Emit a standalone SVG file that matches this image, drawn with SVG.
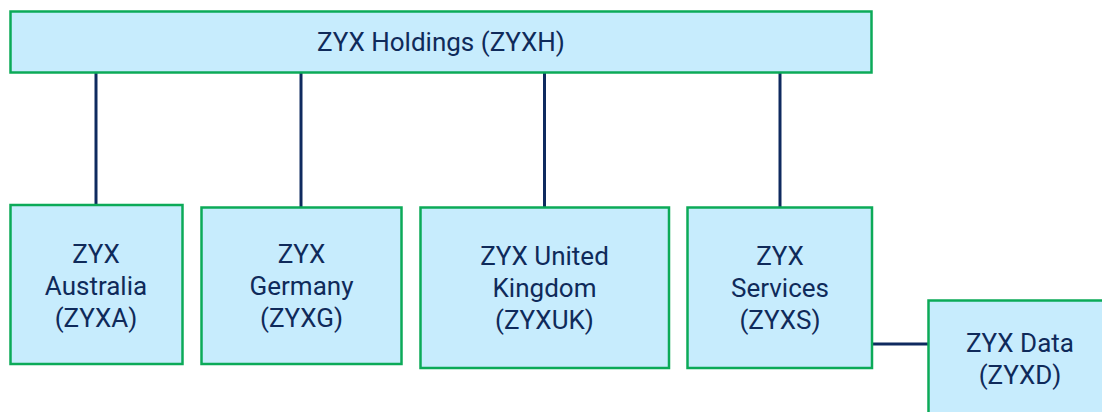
<svg xmlns="http://www.w3.org/2000/svg" width="1102" height="412" viewBox="0 0 1102 412">
<style>
.box{fill:#c7ecfd;stroke:#0caa58;stroke-width:2.5}
.t{font-family:Roboto,"Liberation Sans",sans-serif;font-size:26px;fill:#0f2a5a;text-anchor:middle}
.c{stroke:#0f2a5f;stroke-width:3;fill:none}
</style>
<rect width="1102" height="412" fill="#ffffff"/>
<g id="connectors">
<line class="c" x1="96" y1="73" x2="96" y2="205"/>
<line class="c" x1="301" y1="73" x2="301" y2="207"/>
<line class="c" x1="544.5" y1="73" x2="544.5" y2="207"/>
<line class="c" x1="780" y1="73" x2="780" y2="207"/>
<line class="c" x1="872" y1="344" x2="929" y2="344"/>
</g>
<g id="zyxh">
<rect class="box" x="10.5" y="11.5" width="861" height="61"/>
<text class="t" x="441" y="51">ZYX Holdings (ZYXH)</text>
</g>
<g id="zyxa">
<rect class="box" x="10.5" y="205" width="172" height="159"/>
<text class="t" x="96" y="263">ZYX</text>
<text class="t" x="96" y="295">Australia</text>
<text class="t" x="96" y="327">(ZYXA)</text>
</g>
<g id="zyxg">
<rect class="box" x="201.5" y="207.5" width="200" height="156.5"/>
<text class="t" x="301.5" y="263">ZYX</text>
<text class="t" x="301.5" y="295">Germany</text>
<text class="t" x="301.5" y="327">(ZYXG)</text>
</g>
<g id="zyxuk">
<rect class="box" x="420.5" y="207.5" width="248.5" height="160.5"/>
<text class="t" x="544.5" y="265">ZYX United</text>
<text class="t" x="544.5" y="297">Kingdom</text>
<text class="t" x="544.5" y="329">(ZYXUK)</text>
</g>
<g id="zyxs">
<rect class="box" x="687.5" y="207.5" width="184.5" height="160.5"/>
<text class="t" x="780" y="265">ZYX</text>
<text class="t" x="780" y="297">Services</text>
<text class="t" x="780" y="329">(ZYXS)</text>
</g>
<g id="zyxd">
<rect class="box" x="928.5" y="300.5" width="184" height="130"/>
<text class="t" x="1020" y="352">ZYX Data</text>
<text class="t" x="1020" y="384">(ZYXD)</text>
</g>
</svg>
